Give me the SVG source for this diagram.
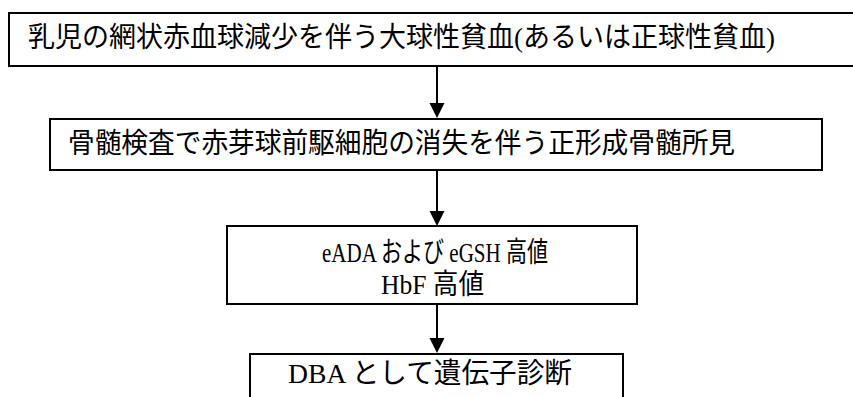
<svg xmlns="http://www.w3.org/2000/svg" width="853" height="397" viewBox="0 0 853 397">
<style>
.box{fill:#fff;stroke:#000;stroke-width:2}
.t{font-family:"Liberation Serif","Noto Sans CJK JP",serif;font-size:28px;fill:#000}
.c{stroke:#000;stroke-width:2;fill:none}
.ah{fill:#000}
</style>
<rect width="853" height="397" fill="#fff"/>
<g id="connectors">
<line class="c" x1="437" y1="66" x2="437" y2="103"/>
<path class="ah" d="M429.5,103 L444.5,103 L437,118 Z"/>
<line class="c" x1="437" y1="170" x2="437" y2="211"/>
<path class="ah" d="M429.5,211 L444.5,211 L437,226 Z"/>
<line class="c" x1="437" y1="304" x2="437" y2="338"/>
<path class="ah" d="M429.5,338 L444.5,338 L437,353 Z"/>
</g>
<g id="node1">
<rect class="box" x="9" y="13" width="860" height="53"/>
<text class="t" x="28" y="47" textLength="747" lengthAdjust="spacingAndGlyphs">乳児の網状赤血球減少を伴う大球性貧血(あるいは正球性貧血)</text>
</g>
<g id="node2">
<rect class="box" x="50" y="119" width="772" height="51"/>
<text class="t" x="68" y="153" textLength="667" lengthAdjust="spacingAndGlyphs">骨髄検査で赤芽球前駆細胞の消失を伴う正形成骨髄所見</text>
</g>
<g id="node3">
<rect class="box" x="227" y="226" width="410" height="78"/>
<text class="t" x="322" y="262" textLength="226" lengthAdjust="spacingAndGlyphs">eADA および eGSH 高値</text>
<text class="t" x="381" y="294" textLength="103" lengthAdjust="spacingAndGlyphs">HbF 高値</text>
</g>
<g id="node4">
<rect class="box" x="250" y="354" width="373" height="60"/>
<text class="t" x="288" y="383" textLength="284" lengthAdjust="spacingAndGlyphs">DBA として遺伝子診断</text>
</g>
</svg>
